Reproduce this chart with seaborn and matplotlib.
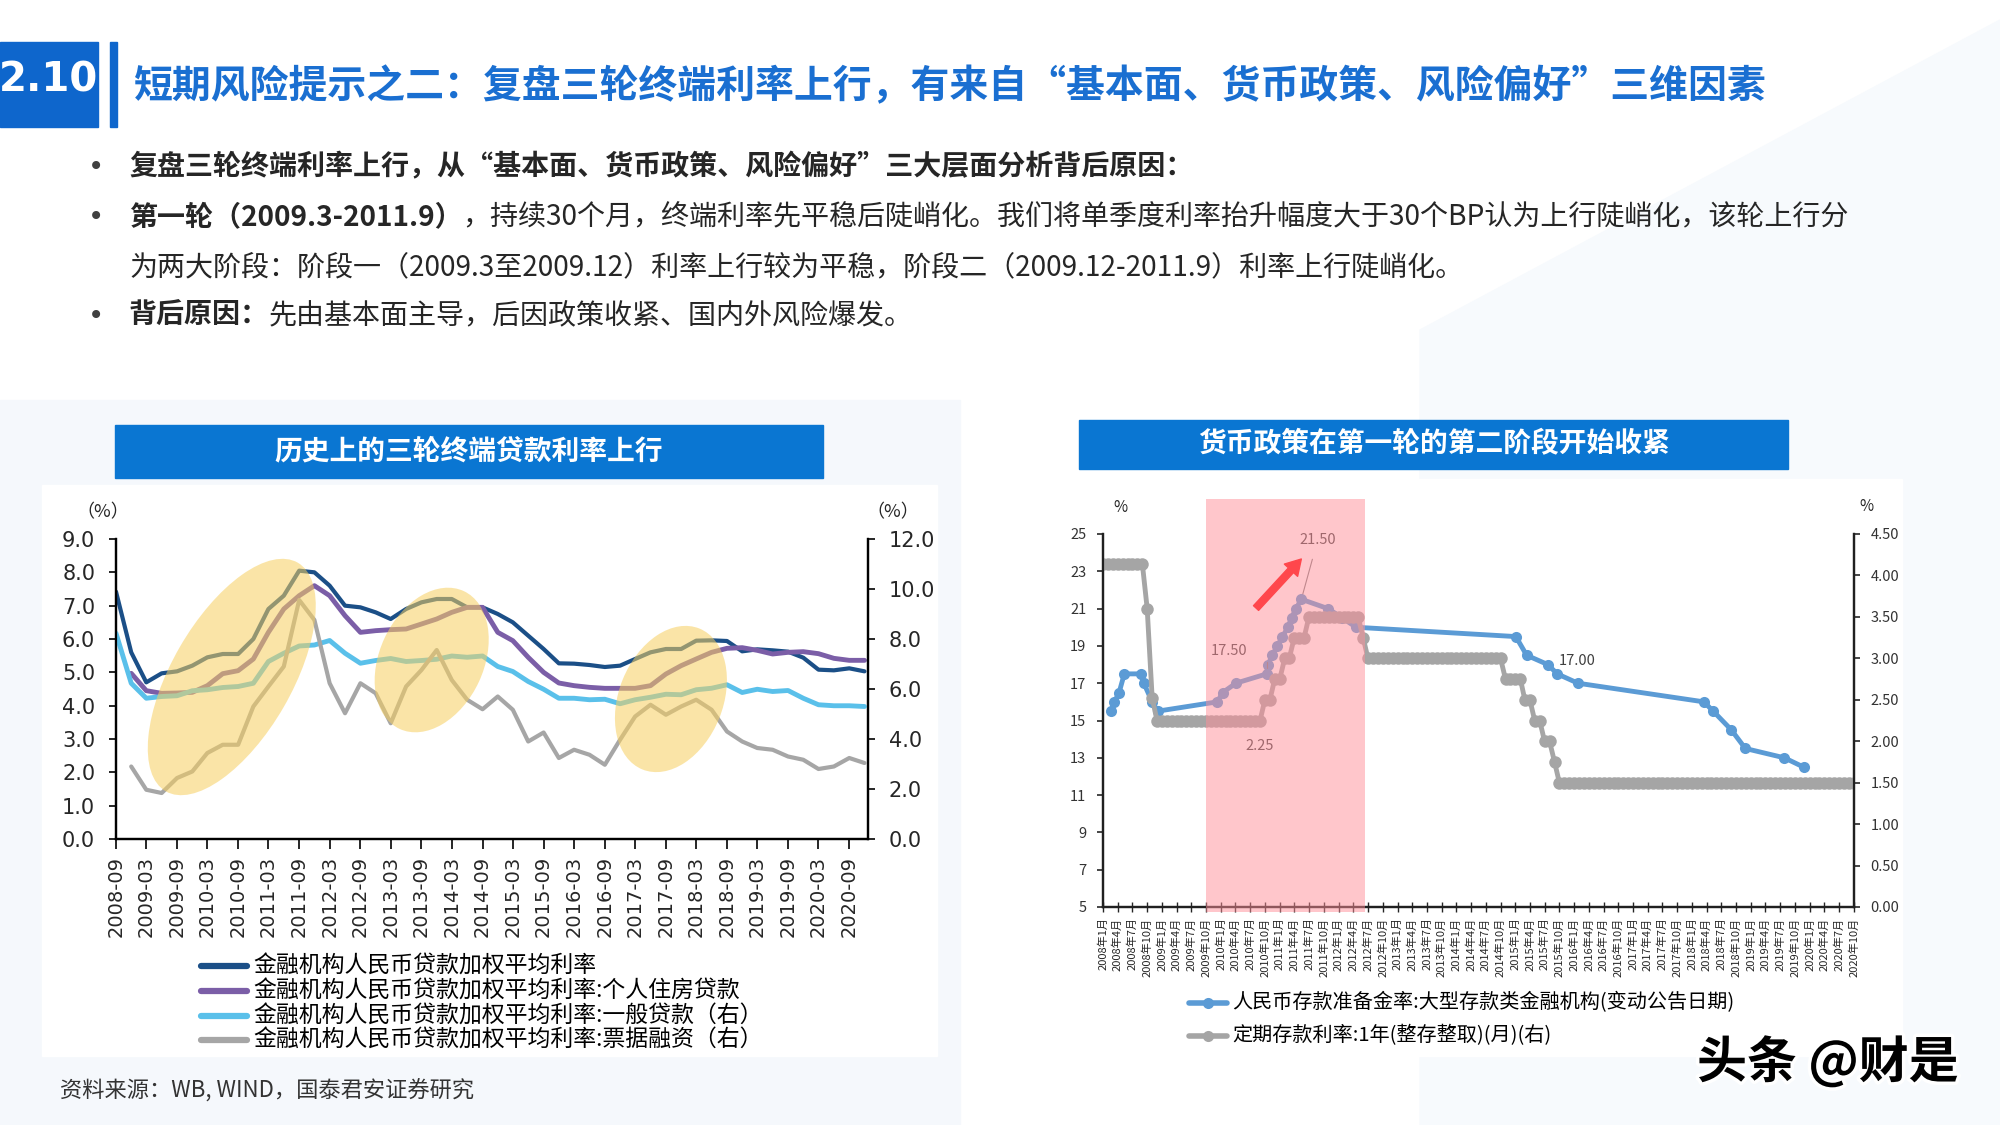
import numpy as np
import pandas as pd
import matplotlib
matplotlib.use("Agg")
import matplotlib.pyplot as plt
import matplotlib.dates as mdates
import matplotlib.transforms as mtransforms
import matplotlib.patheffects as pe
from matplotlib.patches import Ellipse, Rectangle, Polygon
from matplotlib.lines import Line2D
from matplotlib.ticker import FormatStrFormatter
import seaborn as sns

sns.set_style("ticks")
plt.rcParams['font.family'] = ['Noto Sans CJK SC', 'DejaVu Sans']
plt.rcParams['axes.unicode_minus'] = False

W, H = 2000, 1125

# ---------------- data: left chart (quarterly, %) ----------------
left_quarters = pd.date_range("2008-09-01", "2020-12-01", freq="3MS")
left_ticks = pd.date_range("2008-09-01", "2020-09-01", freq="6MS")

loan_avg = [7.42, 5.60, 4.70, 4.97, 5.03, 5.20, 5.45, 5.55, 5.55, 6.00,
            6.90, 7.30, 8.05, 8.00, 7.60, 7.00, 6.95, 6.80, 6.60, 6.90,
            7.10, 7.20, 7.20, 6.95, 6.95, 6.75, 6.50, 6.10, 5.70, 5.27,
            5.26, 5.22, 5.16, 5.20, 5.40, 5.60, 5.70, 5.70, 5.95, 5.96,
            5.94, 5.63, 5.69, 5.66, 5.62, 5.44, 5.08, 5.06, 5.12, 5.03]
# starts 2008-12
loan_house = [4.97, 4.45, 4.37, 4.38, 4.40, 4.60, 4.96, 5.05, 5.40,
              6.20, 6.90, 7.30, 7.60, 7.30, 6.70, 6.20, 6.25, 6.28, 6.30,
              6.45, 6.60, 6.80, 6.95, 6.95, 6.20, 5.95, 5.45, 5.00, 4.68,
              4.60, 4.55, 4.52, 4.52, 4.52, 4.60, 4.95, 5.20, 5.40, 5.60,
              5.72, 5.74, 5.66, 5.55, 5.60, 5.62, 5.56, 5.42, 5.36, 5.36]
loan_general = [8.23, 6.23, 5.63, 5.70, 5.73, 5.93, 5.97, 6.06, 6.10, 6.23,
                7.10, 7.43, 7.72, 7.76, 7.94, 7.43, 7.03, 7.14, 7.22, 7.10,
                7.14, 7.19, 7.32, 7.27, 7.32, 6.90, 6.70, 6.30, 5.99, 5.63,
                5.63, 5.57, 5.59, 5.41, 5.57, 5.67, 5.79, 5.77, 5.97, 6.03,
                6.17, 5.86, 5.99, 5.90, 5.94, 5.63, 5.37, 5.33, 5.33, 5.30]
# starts 2008-12
loan_bill = [2.90, 1.97, 1.84, 2.44, 2.70, 3.44, 3.77, 3.77, 5.30,
             6.10, 6.90, 9.56, 8.76, 6.23, 5.03, 6.23, 5.83, 4.63, 6.10,
             6.76, 7.56, 6.36, 5.57, 5.19, 5.70, 5.17, 3.90, 4.26, 3.24,
             3.57, 3.37, 2.97, 3.97, 4.90, 5.37, 4.97, 5.30, 5.57, 5.17,
             4.30, 3.90, 3.64, 3.57, 3.30, 3.17, 2.80, 2.90, 3.24, 3.04]

left_names = ["金融机构人民币贷款加权平均利率",
              "金融机构人民币贷款加权平均利率:个人住房贷款",
              "金融机构人民币贷款加权平均利率:一般贷款（右）",
              "金融机构人民币贷款加权平均利率:票据融资（右）"]
left_colors = ["#1b4f87", "#7b5ea7", "#5ac0ea", "#a6a6a6"]

# highlighted periods: centre date, centre value (left axis), size in px, angle
yellow_zones = [("2010-07-25", 4.86, 264, 120, 60),
                ("2013-11-01", 5.37, 152, 104, 65),
                ("2017-10-01", 4.20, 152, 104, 68)]

# ---------------- data: right chart ----------------
rrr_dates = ["2008-02-18", "2008-03-12", "2008-04-10", "2008-05-12", "2008-08-21",
             "2008-09-10", "2008-11-01", "2008-12-04", "2009-12-10", "2010-01-12",
             "2010-04-04", "2010-10-12", "2010-10-21", "2010-11-15", "2010-12-18",
             "2011-01-18", "2011-02-21", "2011-03-15", "2011-04-12", "2011-05-15",
             "2011-10-27", "2012-01-24", "2012-04-18", "2015-01-04", "2015-03-12",
             "2015-07-21", "2015-09-18", "2016-01-24", "2018-03-15", "2018-05-12",
             "2018-09-01", "2018-11-27", "2019-07-27", "2019-11-24"]
rrr_values = [15.5, 16.0, 16.5, 17.5, 17.5, 17.0, 16.0, 15.5, 16.0, 16.5,
              17.0, 17.5, 18.0, 18.5, 19.0, 19.5, 20.0, 20.5, 21.0, 21.5,
              21.0, 20.5, 20.0, 19.5, 18.5, 18.0, 17.5, 17.0, 16.0, 15.5,
              14.5, 13.5, 13.0, 12.5]

deposit_months = pd.date_range("2008-01-01", "2020-10-01", freq="MS")
deposit_rate = (
    [4.14, 4.14, 4.14, 4.14, 4.14, 4.14, 4.14, 4.14, 4.14, 3.60, 2.52, 2.25]   # 2008
    + [2.25, 2.25, 2.25, 2.25, 2.25, 2.25, 2.25, 2.25, 2.25, 2.25, 2.25, 2.25]  # 2009
    + [2.25, 2.25, 2.25, 2.25, 2.25, 2.25, 2.25, 2.25, 2.25, 2.50, 2.50, 2.75]  # 2010
    + [2.75, 3.00, 3.00, 3.25, 3.25, 3.25, 3.50, 3.50, 3.50, 3.50, 3.50, 3.50]  # 2011
    + [3.50, 3.50, 3.50, 3.50, 3.50, 3.25, 3.00, 3.00, 3.00, 3.00, 3.00, 3.00]  # 2012
    + [3.00, 3.00, 3.00, 3.00, 3.00, 3.00, 3.00, 3.00, 3.00, 3.00, 3.00, 3.00]  # 2013
    + [3.00, 3.00, 3.00, 3.00, 3.00, 3.00, 3.00, 3.00, 3.00, 3.00, 2.75, 2.75]  # 2014
    + [2.75, 2.75, 2.50, 2.50, 2.25, 2.25, 2.00, 2.00, 1.75, 1.50, 1.50, 1.50]  # 2015
    + [1.50, 1.50, 1.50, 1.50, 1.50, 1.50, 1.50, 1.50, 1.50, 1.50, 1.50, 1.50]  # 2016
    + [1.50, 1.50, 1.50, 1.50, 1.50, 1.50, 1.50, 1.50, 1.50, 1.50, 1.50, 1.50]  # 2017
    + [1.50, 1.50, 1.50, 1.50, 1.50, 1.50, 1.50, 1.50, 1.50, 1.50, 1.50, 1.50]  # 2018
    + [1.50, 1.50, 1.50, 1.50, 1.50, 1.50, 1.50, 1.50, 1.50, 1.50, 1.50, 1.50]  # 2019
    + [1.50, 1.50, 1.50, 1.50, 1.50, 1.50, 1.50, 1.50, 1.50, 1.50]              # 2020
)
right_ticks = pd.date_range("2008-01-01", "2020-10-01", freq="3MS")
right_names = ["人民币存款准备金率:大型存款类金融机构(变动公告日期)",
               "定期存款利率:1年(整存整取)(月)(右)"]
right_colors = ["#5b9bd5", "#a5a5a5"]
tight_start, tight_end = "2009-10-01", "2012-06-10"

# ---------------- text ----------------
title = "短期风险提示之二：复盘三轮终端利率上行，有来自“基本面、货币政策、风险偏好”三维因素"
bullets = [
    [("复盘三轮终端利率上行，从“基本面、货币政策、风险偏好”三大层面分析背后原因：", True)],
    [("第一轮（2009.3-2011.9）", True),
     ("，持续30个月，终端利率先平稳后陡峭化。我们将单季度利率抬升幅度大于30个BP认为上行陡峭化，该轮上行分", False)],
    [("为两大阶段：阶段一（2009.3至2009.12）利率上行较为平稳，阶段二（2009.12-2011.9）利率上行陡峭化。", False)],
    [("背后原因：", True), ("先由基本面主导，后因政策收紧、国内外风险爆发。", False)],
]
left_title = "历史上的三轮终端贷款利率上行"
right_title = "货币政策在第一轮的第二阶段开始收紧"
source = "资料来源：WB, WIND，国泰君安证券研究"


def fx(px):
    return px / W


def fy(py):
    return 1 - py / H


def px_box(x0, y0, x1, y1):
    return [x0 / W, 1 - y1 / H, (x1 - x0) / W, (y1 - y0) / H]


fig = plt.figure(figsize=(20, 11.25), dpi=100)
fig.patch.set_facecolor("white")

# faint slide background shapes
fig.add_artist(Polygon([(fx(0), fy(400)), (fx(960), fy(400)), (fx(960), fy(1125)), (fx(0), fy(1125))],
                       closed=True, transform=fig.transFigure, color="#f5f8fc", zorder=-5))
fig.add_artist(Polygon([(fx(1420), fy(330)), (fx(2000), fy(20)), (fx(2000), fy(1125)), (fx(1420), fy(1125))],
                       closed=True, transform=fig.transFigure, color="#f7fafd", zorder=-5))

# header
fig.add_artist(Rectangle((0, fy(127)), fx(98), (127 - 42) / H, transform=fig.transFigure,
                         color="#0e66cc", zorder=1))
fig.add_artist(Rectangle((fx(110), fy(127)), fx(7), (127 - 42) / H, transform=fig.transFigure,
                         color="#0e66cc", zorder=1))
fig.text(fx(49), fy(80), "2.10", color="white", fontsize=29, fontweight="bold",
         ha="center", va="center", family="DejaVu Sans", zorder=2)
fig.text(fx(134), fy(87), title, color="#1a6fd1", fontsize=28, fontweight="bold",
         ha="left", va="center")

renderer = fig.canvas.get_renderer()
bullet_rows = [167, 217, 267, 316]
for i, (row, parts) in enumerate(zip(bullet_rows, bullets)):
    if i != 2:
        fig.text(fx(96), fy(row), "•", fontsize=20, color="#404040", ha="center", va="center",
                 family="DejaVu Sans")
    x = fx(129)
    for txt, bold in parts:
        t = fig.text(x, fy(row), txt, fontsize=20.2, color="#262626",
                     fontweight="bold" if bold else "normal", ha="left", va="center")
        x = t.get_window_extent(renderer).x1 / fig.bbox.width

# chart panels and title bars
fig.add_artist(Rectangle((fx(42), fy(1056)), fx(937 - 42), (1056 - 485) / H,
                         transform=fig.transFigure, color="white", zorder=-1))
fig.add_artist(Rectangle((fx(1064), fy(1056)), fx(1902 - 1064), (1056 - 479) / H,
                         transform=fig.transFigure, color="white", zorder=-1))
fig.add_artist(Rectangle((fx(115), fy(478)), fx(823 - 115), (478 - 425) / H,
                         transform=fig.transFigure, color="#0a76d2", zorder=1))
fig.text(fx(469), fy(451), left_title, color="white", fontsize=20, fontweight="bold",
         ha="center", va="center", zorder=2)
fig.add_artist(Rectangle((fx(1079), fy(469)), fx(1788 - 1079), (469 - 420) / H,
                         transform=fig.transFigure, color="#0a76d2", zorder=1))
fig.text(fx(1434), fy(444), right_title, color="white", fontsize=20, fontweight="bold",
         ha="center", va="center", zorder=2)

# ---------------- left chart ----------------
ax1 = fig.add_axes(px_box(116, 539, 868, 839))
ax1b = ax1.twinx()
ax1.set_facecolor("none")

sns.lineplot(x=left_quarters, y=loan_avg, ax=ax1, color=left_colors[0], linewidth=3, legend=False)
sns.lineplot(x=left_quarters[1:], y=loan_house, ax=ax1, color=left_colors[1], linewidth=3.5, legend=False)
sns.lineplot(x=left_quarters, y=loan_general, ax=ax1b, color=left_colors[2], linewidth=3.5, legend=False)
sns.lineplot(x=left_quarters[1:], y=loan_bill, ax=ax1b, color=left_colors[3], linewidth=3, legend=False)

ax1.set_ylim(0, 9)
ax1.set_yticks(np.arange(0, 9.1, 1))
ax1b.set_ylim(0, 12)
ax1b.set_yticks(np.arange(0, 12.1, 2))
ax1.yaxis.set_major_formatter(FormatStrFormatter("%.1f"))
ax1b.yaxis.set_major_formatter(FormatStrFormatter("%.1f"))
ax1.set_xlim(left_quarters[0], pd.Timestamp("2020-12-22"))
ax1.set_xticks(left_ticks)
ax1.set_xticklabels([d.strftime("%Y-%m") for d in left_ticks], rotation=90)
for a in (ax1, ax1b):
    a.set_xlabel("")
    a.set_ylabel("")
    a.spines["top"].set_visible(False)
    for s in ("left", "right", "bottom"):
        a.spines[s].set_linewidth(1.6)
        a.spines[s].set_color("black")
ax1.tick_params(axis="y", direction="out", length=5, width=1.4, labelsize=15, pad=10,
                labelfontfamily="DejaVu Sans")
ax1b.tick_params(axis="y", direction="out", length=5, width=1.4, labelsize=15, pad=10,
                 labelfontfamily="DejaVu Sans")
ax1.tick_params(axis="x", direction="out", length=7, width=1.4, labelsize=14, pad=5,
                labelfontfamily="DejaVu Sans")
fig.text(fx(103), fy(512), "（%）", fontsize=13, ha="center", va="center")
fig.text(fx(893), fy(512), "（%）", fontsize=13, ha="center", va="center")

for cdate, cval, w, h, ang in yellow_zones:
    off = mtransforms.ScaledTranslation(mdates.date2num(pd.Timestamp(cdate)), cval, ax1.transData)
    e = Ellipse((0, 0), w / 100, h / 100, angle=ang, transform=fig.dpi_scale_trans + off,
                facecolor="#f7cf5f", edgecolor="none", alpha=0.55, zorder=3)
    fig.add_artist(e)

left_rows = [966, 991, 1016, 1040]
for name, col, row in zip(left_names, left_colors, left_rows):
    fig.add_artist(Line2D([fx(201), fx(247)], [fy(row), fy(row)], transform=fig.transFigure,
                          color=col, linewidth=4.5, solid_capstyle="round"))
    fig.text(fx(253), fy(row), name, fontsize=16.5, ha="left", va="center", color="black")

# ---------------- right chart ----------------
ax3 = fig.add_axes(px_box(1103, 534, 1854, 907))
ax4 = ax3.twinx()
ax3.set_facecolor("none")

sns.lineplot(x=pd.to_datetime(rrr_dates), y=rrr_values, ax=ax3, color=right_colors[0],
             linewidth=3.5, marker="o", markersize=8, markeredgewidth=0, legend=False)
sns.lineplot(x=deposit_months, y=deposit_rate, ax=ax4, color=right_colors[1],
             linewidth=3.5, marker="o", markersize=9, markeredgewidth=0, legend=False)

ax3.set_ylim(5, 25)
ax3.set_yticks(np.arange(5, 25.1, 2))
ax4.set_ylim(0, 4.5)
ax4.set_yticks(np.arange(0, 4.51, 0.5))
ax4.yaxis.set_major_formatter(FormatStrFormatter("%.2f"))
ax3.set_xlim(pd.Timestamp("2008-01-01"), pd.Timestamp("2020-10-01"))
ax3.set_xticks(right_ticks)
ax3.set_xticklabels([f"{d.year}年{d.month}月" for d in right_ticks], rotation=90)
for a in (ax3, ax4):
    a.set_xlabel("")
    a.set_ylabel("")
    a.spines["top"].set_visible(False)
    for s in ("left", "right", "bottom"):
        a.spines[s].set_linewidth(1.6)
        a.spines[s].set_color("#202020")
ax3.tick_params(axis="y", direction="out", length=4, width=1.2, labelsize=10.5, pad=8,
                labelcolor="#333333")
ax4.tick_params(axis="y", direction="out", length=4, width=1.2, labelsize=10.5, pad=8,
                labelcolor="#333333")
ax3.tick_params(axis="x", direction="inout", length=7, width=1.0, labelsize=8, pad=4)
fig.text(fx(1120), fy(508), "%", fontsize=11, ha="center", va="center")
fig.text(fx(1866), fy(506), "%", fontsize=11, ha="center", va="center")

# tightening period shading
band = mtransforms.blended_transform_factory(ax3.transData, fig.transFigure)
x0 = mdates.date2num(pd.Timestamp(tight_start))
x1 = mdates.date2num(pd.Timestamp(tight_end))
fig.add_artist(Rectangle((x0, fy(912)), x1 - x0, (912 - 499) / H, transform=band,
                         facecolor="#ff8f99", edgecolor="none", alpha=0.5, zorder=3))

lab_col = "#404040"
peak_i = rrr_values.index(max(rrr_values))
ax3.annotate(f"{rrr_values[peak_i]:.2f}",
             xy=(mdates.date2num(pd.Timestamp(rrr_dates[peak_i])), rrr_values[peak_i]),
             xytext=(mdates.date2num(pd.Timestamp("2011-08-25")), 24.7),
             fontsize=10.5, color=lab_col, ha="center", va="center",
             arrowprops=dict(arrowstyle="-", color="#808080", lw=0.8, shrinkA=7, shrinkB=4))
ax3.annotate(f"{rrr_values[11]:.2f}",
             xy=(mdates.date2num(pd.Timestamp(rrr_dates[11])), rrr_values[11]),
             xytext=(mdates.date2num(pd.Timestamp("2010-02-20")), 18.73),
             fontsize=10.5, color=lab_col, ha="center", va="center",
             arrowprops=dict(arrowstyle="-", color="#808080", lw=0.8, shrinkA=14, shrinkB=4,
                             connectionstyle="angle,angleA=0,angleB=90,rad=0"))
ax3.text(mdates.date2num(pd.Timestamp("2016-01-21")), 18.19, f"{rrr_values[27]:.2f}",
         fontsize=10.5, color=lab_col, ha="center", va="center")
ax4.text(mdates.date2num(pd.Timestamp("2010-09-01")), 1.94, f"{deposit_rate[11]:.2f}",
         fontsize=10.5, color=lab_col, ha="center", va="center")
ax3.annotate("", xy=(mdates.date2num(pd.Timestamp("2011-05-15")), 23.66),
             xytext=(mdates.date2num(pd.Timestamp("2010-08-07")), 21.03),
             arrowprops=dict(facecolor="#ff0000", edgecolor="#ff0000", width=5,
                             headwidth=13, headlength=11))

right_rows = [1003, 1036]
for name, col, row in zip(right_names, right_colors, right_rows):
    fig.add_artist(Line2D([fx(1189), fx(1227)], [fy(row), fy(row)], transform=fig.transFigure,
                          color=col, linewidth=4))
    fig.add_artist(Line2D([fx(1208)], [fy(row)], transform=fig.transFigure,
                          color=col, marker="o", markersize=8, markeredgewidth=0))
    fig.text(fx(1232), fy(row), name, fontsize=14.5, ha="left", va="center", color="black")

# footer
fig.text(fx(60), fy(1091), source, fontsize=16, color="#333333", ha="left", va="center")
fig.text(fx(1697), fy(1062), "头条 @财是", fontsize=36, fontweight="bold", color="black",
         ha="left", va="center",
         path_effects=[pe.withStroke(linewidth=5, foreground="white")])

fig.savefig("out.png", dpi=100)
